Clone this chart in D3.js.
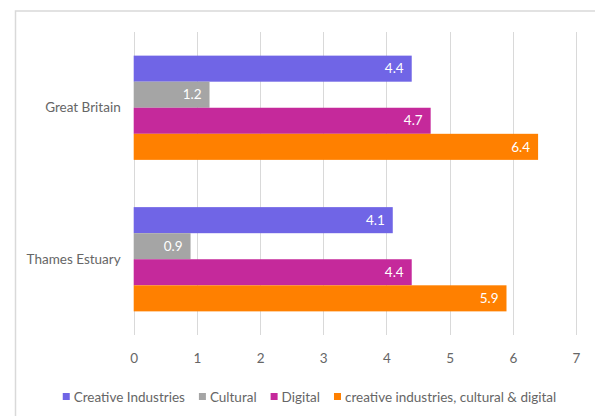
<!DOCTYPE html>
<html>
<head>
<meta charset="utf-8">
<script src="https://cdn.jsdelivr.net/npm/d3@7"></script>
<style>
  html, body { margin: 0; padding: 0; background: #ffffff; }
  svg { display: block; }
  text { font-family: Lato, "Open Sans", sans-serif; font-weight: 400; }
</style>
</head>
<body>
<svg id="chart" width="595" height="416"></svg>
<script>
// Regions shown on the vertical axis, top to bottom
const categories = ["Great Britain", "Thames Estuary"];

// Series names (legend order) and their values per region
const seriesNames = [
  "Creative Industries",
  "Cultural",
  "Digital",
  "creative industries, cultural & digital"
];
const creativeIndustries = [4.4, 4.1];
const cultural = [1.2, 0.9];
const digital = [4.7, 4.4];
const combined = [6.4, 5.9];

const xTickValues = [0, 1, 2, 3, 4, 5, 6, 7];

const seriesColors = ["#7065E6", "#A5A5A5", "#C5299B", "#FF8000"];
const seriesValues = [creativeIndustries, cultural, digital, combined];

const series = seriesNames.map((name, i) => ({
  name,
  color: seriesColors[i],
  values: seriesValues[i]
}));

const svg = d3.select("#chart");
const fontSize = 13.5;
const textColor = "#666666";

// Chart frame
svg.append("rect")
  .attr("x", 15.5).attr("y", 11)
  .attr("width", 700).attr("height", 500)
  .attr("fill", "#ffffff")
  .attr("stroke", "#d9d9d9")
  .attr("stroke-width", 1.5);

const plot = { left: 133.7, right: 576, top: 32, bottom: 335 };

const x = d3.scaleLinear()
  .domain([0, 7])
  .range([plot.left, plot.right]);

const y0 = d3.scaleBand()
  .domain(categories)
  .range([plot.top, plot.bottom])
  .paddingInner(0.312)
  .paddingOuter(0.156);

const y1 = d3.scaleBand()
  .domain(seriesNames)
  .range([0, y0.bandwidth()]);

// Vertical gridlines
svg.append("g")
  .selectAll("line")
  .data(xTickValues)
  .join("line")
  .attr("x1", d => Math.round(x(d)) + 0.5)
  .attr("x2", d => Math.round(x(d)) + 0.5)
  .attr("y1", plot.top)
  .attr("y2", plot.bottom)
  .attr("stroke", "#d9d9d9")
  .attr("stroke-width", 1);

// Bars grouped by region
const groups = svg.append("g")
  .selectAll("g")
  .data(categories)
  .join("g")
  .attr("transform", c => `translate(0,${y0(c)})`);

groups.each(function(c, ci) {
  const g = d3.select(this);
  g.selectAll("rect")
    .data(series)
    .join("rect")
    .attr("x", x(0))
    .attr("y", s => y1(s.name))
    .attr("width", s => x(s.values[ci]) - x(0))
    .attr("height", y1.bandwidth())
    .attr("fill", s => s.color);

  g.selectAll("text")
    .data(series)
    .join("text")
    .attr("x", s => x(s.values[ci]) - 8)
    .attr("y", s => y1(s.name) + y1.bandwidth() / 2)
    .attr("dy", "0.35em")
    .attr("text-anchor", "end")
    .attr("fill", "#ffffff")
    .attr("font-size", fontSize)
    .text(s => d3.format(".1f")(s.values[ci]));
});

// Category labels
svg.append("g")
  .selectAll("text")
  .data(categories)
  .join("text")
  .attr("x", plot.left - 13)
  .attr("y", c => y0(c) + y0.bandwidth() / 2)
  .attr("dy", "0.35em")
  .attr("text-anchor", "end")
  .attr("fill", textColor)
  .attr("font-size", fontSize)
  .text(c => c);

// X axis tick labels
const xAxis = d3.axisBottom(x)
  .tickValues(xTickValues)
  .tickSize(0)
  .tickPadding(0)
  .tickFormat(d3.format("d"));

const axisG = svg.append("g")
  .attr("transform", `translate(0,${plot.bottom + 18})`)
  .call(xAxis);
axisG.select(".domain").remove();
axisG.selectAll("text")
  .attr("fill", textColor)
  .attr("font-size", fontSize)
  .attr("font-family", null);

// Legend
const legend = svg.append("g").attr("transform", "translate(0,397)");
const items = legend.selectAll("g")
  .data(series)
  .join("g");
items.append("rect")
  .attr("width", 7).attr("height", 7)
  .attr("y", -4)
  .attr("fill", s => s.color);
items.append("text")
  .attr("x", 11)
  .attr("dy", "0.35em")
  .attr("fill", textColor)
  .attr("font-size", fontSize)
  .text(s => s.name);

// Lay out legend items side by side, centred
const widths = [];
items.each(function() {
  widths.push(this.querySelector("text").getComputedTextLength() + 11);
});
const gap = 14;
const total = d3.sum(widths) + gap * (widths.length - 1);
let offset = 309.5 - total / 2;
items.attr("transform", (s, i) => {
  const t = `translate(${offset},0)`;
  offset += widths[i] + gap;
  return t;
});
</script>
</body>
</html>
